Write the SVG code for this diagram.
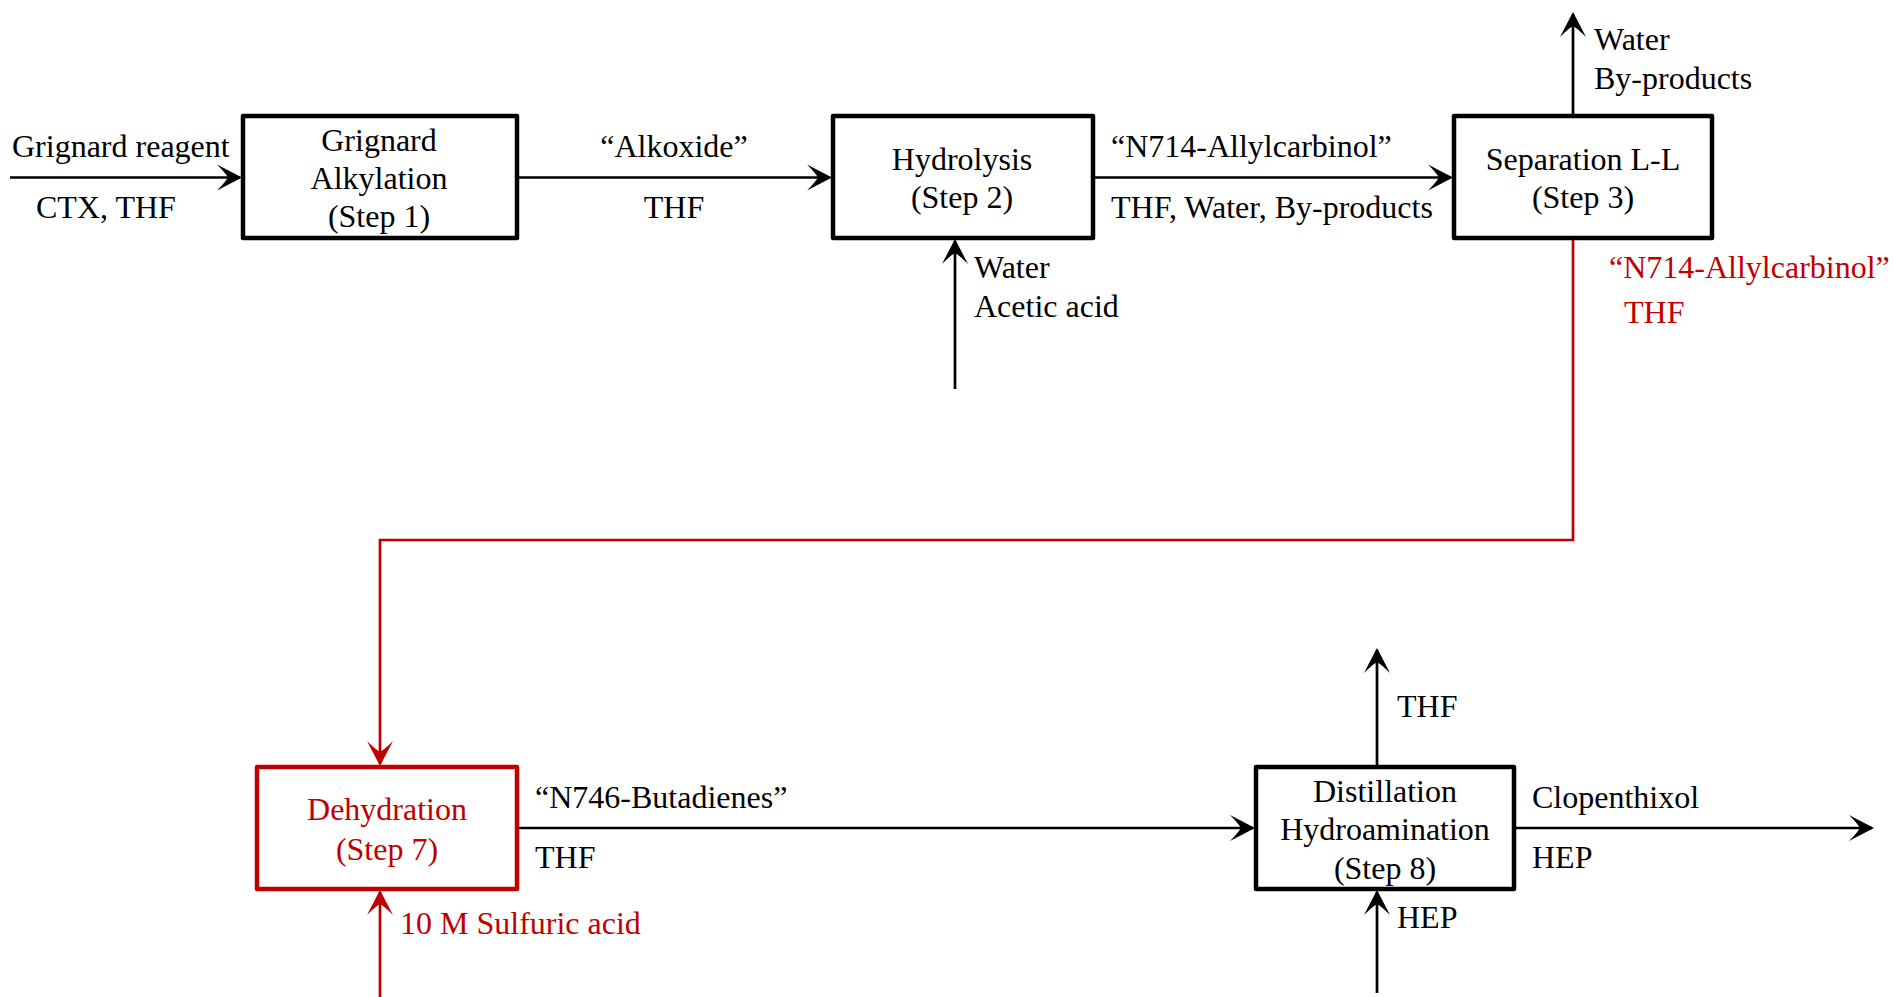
<svg xmlns="http://www.w3.org/2000/svg" width="1893" height="997" viewBox="0 0 1893 997">
<style>
text{font-family:"Liberation Serif","Times New Roman",serif;font-size:32px;fill:#000}
.c{text-anchor:middle}
.red{fill:#c00000}
.box{fill:#fff;stroke:#000;stroke-width:4.5;stroke-linejoin:round}
.rbox{fill:#fff;stroke:#c00000;stroke-width:4.5;stroke-linejoin:round}
.ln{fill:none;stroke:#000;stroke-width:2.7}
.rln{fill:none;stroke:#c00000;stroke-width:2.7}
</style>
<defs>
<marker id="ah" markerUnits="userSpaceOnUse" markerWidth="34" markerHeight="34" viewBox="-28 -17 34 34" refX="0" refY="0" orient="auto">
<path d="M2,0 L-23,-13 Q-15,-5 -12,0 Q-15,5 -23,13 Z" fill="#000"/>
</marker>
<marker id="rah" markerUnits="userSpaceOnUse" markerWidth="34" markerHeight="34" viewBox="-28 -17 34 34" refX="0" refY="0" orient="auto">
<path d="M2,0 L-23,-13 Q-15,-5 -12,0 Q-15,5 -23,13 Z" fill="#c00000"/>
</marker>
</defs>
<g id="connectors">
<path class="ln" d="M10,177.5 H240" marker-end="url(#ah)"/>
<path class="ln" d="M517,177.5 H830" marker-end="url(#ah)"/>
<path class="ln" d="M955,389 V241" marker-end="url(#ah)"/>
<path class="ln" d="M1093,177.5 H1451" marker-end="url(#ah)"/>
<path class="ln" d="M1573,116 V14" marker-end="url(#ah)"/>
<path class="rln" d="M1573,238 V540 H380 V764" marker-end="url(#rah)"/>
<path class="rln" d="M380,997 V892" marker-end="url(#rah)"/>
<path class="ln" d="M517,828 H1253" marker-end="url(#ah)"/>
<path class="ln" d="M1377,767 V650" marker-end="url(#ah)"/>
<path class="ln" d="M1377,993 V892" marker-end="url(#ah)"/>
<path class="ln" d="M1514,828 H1872" marker-end="url(#ah)"/>
<text x="12" y="157">Grignard reagent</text>
<text x="36" y="218">CTX, THF</text>
<text class="c" x="674" y="157">“Alkoxide”</text>
<text class="c" x="674" y="218">THF</text>
<text x="974" y="278">Water</text>
<text x="974" y="317">Acetic acid</text>
<text x="1111" y="157">“N714-Allylcarbinol”</text>
<text x="1111" y="218">THF, Water, By-products</text>
<text x="1594" y="50">Water</text>
<text x="1594" y="89">By-products</text>
<text class="red" x="1609" y="278">“N714-Allylcarbinol”</text>
<text class="red" x="1624" y="323">THF</text>
<text class="red" x="400" y="934">10 M Sulfuric acid</text>
<text x="535" y="808">“N746-Butadienes”</text>
<text x="535" y="868">THF</text>
<text x="1397" y="717">THF</text>
<text x="1397" y="928">HEP</text>
<text x="1532" y="808">Clopenthixol</text>
<text x="1532" y="868">HEP</text>
</g>
<g id="step1">
<rect class="box" x="243" y="116" width="274" height="122"/>
<text class="c" x="379" y="151">Grignard</text>
<text class="c" x="379" y="189">Alkylation</text>
<text class="c" x="379" y="227">(Step 1)</text>
</g>
<g id="step2">
<rect class="box" x="833" y="116" width="260" height="122"/>
<text class="c" x="962" y="170">Hydrolysis</text>
<text class="c" x="962" y="208">(Step 2)</text>
</g>
<g id="step3">
<rect class="box" x="1454" y="116" width="258" height="122"/>
<text class="c" x="1583" y="170">Separation L-L</text>
<text class="c" x="1583" y="208">(Step 3)</text>
</g>
<g id="step7">
<rect class="rbox" x="257" y="767" width="260" height="122"/>
<text class="c red" x="387" y="820">Dehydration</text>
<text class="c red" x="387" y="860">(Step 7)</text>
</g>
<g id="step8">
<rect class="box" x="1256" y="767" width="258" height="122"/>
<text class="c" x="1385" y="802">Distillation</text>
<text class="c" x="1385" y="840">Hydroamination</text>
<text class="c" x="1385" y="879">(Step 8)</text>
</g>
</svg>
